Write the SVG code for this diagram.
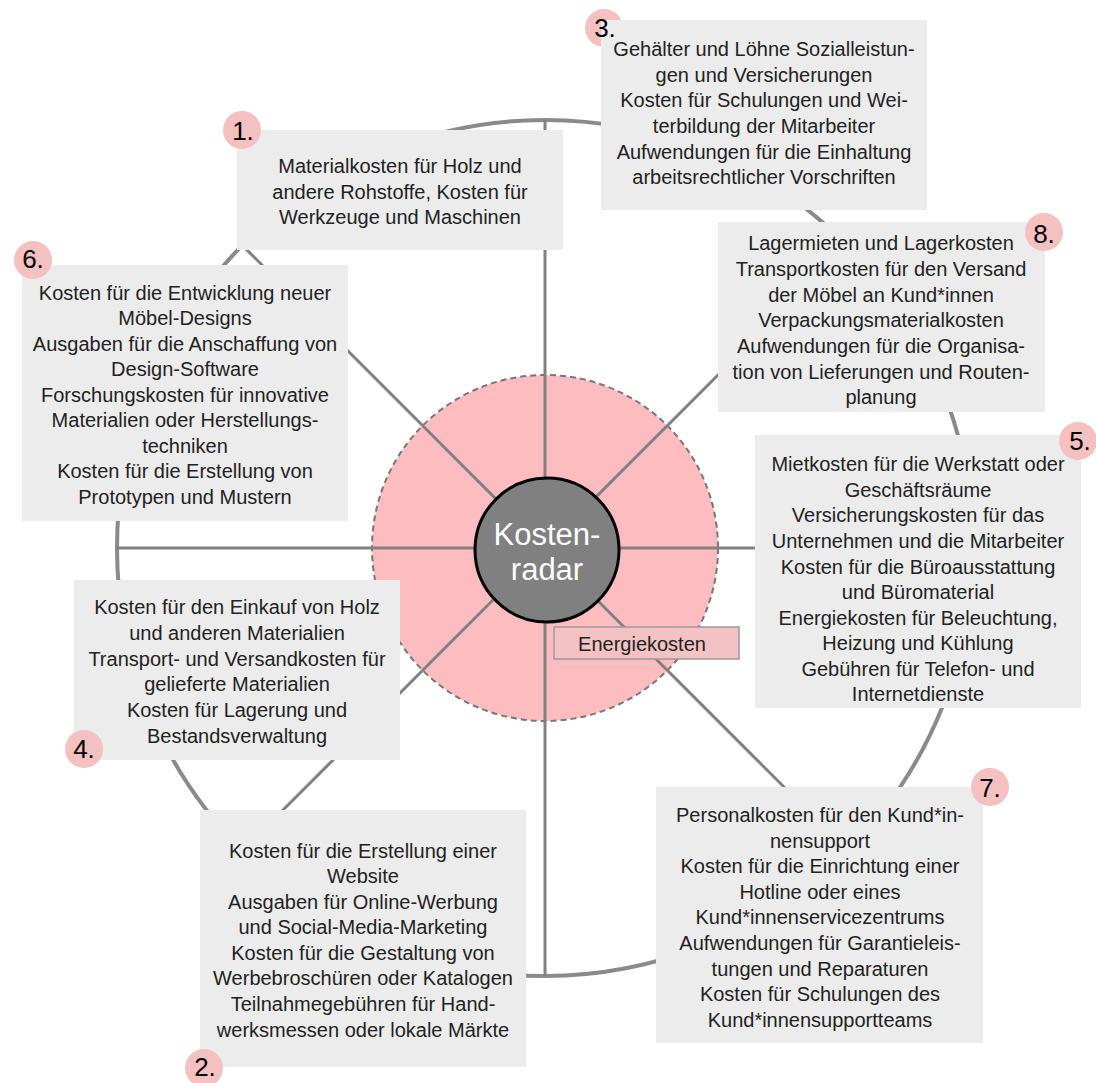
<svg xmlns="http://www.w3.org/2000/svg" width="1096" height="1083" viewBox="0 0 1096 1083">
<style>
.box{fill:#ececec}
.t{font-family:"Liberation Sans",Arial,sans-serif;font-size:20px;fill:#222;text-anchor:middle}
.badge{fill:#f4c0c0}
.bt{font-family:"Liberation Sans",Arial,sans-serif;font-size:26px;fill:#000;text-anchor:middle}
.spoke{stroke:#808080;stroke-width:3;fill:none}
.ct{font-family:"Liberation Sans",Arial,sans-serif;font-size:31px;fill:#fff;text-anchor:middle}
</style>
<rect width="1096" height="1083" fill="#fff"/>
<g id="background">
<circle cx="545" cy="548" r="428" fill="none" stroke="#8a8a8a" stroke-width="4"/>
<circle cx="545" cy="548" r="173" fill="#fdbcc0" stroke="#777" stroke-width="2" stroke-dasharray="6,4"/>
</g>
<g id="connectors">
<line class="spoke" x1="545" y1="548" x2="545" y2="120"/>
<line class="spoke" x1="545" y1="548" x2="545" y2="976"/>
<line class="spoke" x1="545" y1="548" x2="117" y2="548"/>
<line class="spoke" x1="545" y1="548" x2="973" y2="548"/>
<line class="spoke" x1="545" y1="548" x2="242" y2="245"/>
<line class="spoke" x1="545" y1="548" x2="848" y2="245"/>
<line class="spoke" x1="545" y1="548" x2="242" y2="851"/>
<line class="spoke" x1="545" y1="548" x2="848" y2="851"/>
</g>
<g id="center">
<circle cx="547" cy="550" r="72" fill="#808080" stroke="#000" stroke-width="3"/>
<text class="ct" x="547" y="545">Kosten-</text>
<text class="ct" x="547" y="580">radar</text>
</g>
<g id="energiekosten">
<rect x="554" y="627" width="185" height="32" fill="#f4c2c2" stroke="#9a9a9a" stroke-width="1.5"/>
<text class="t" x="642" y="651">Energiekosten</text>
</g>
<g id="node1">
<rect class="box" x="237" y="130" width="326" height="120"/>
<text class="t" x="400" y="173">Materialkosten für Holz und</text>
<text class="t" x="400" y="199">andere Rohstoffe, Kosten für</text>
<text class="t" x="400" y="224">Werkzeuge und Maschinen</text>
<circle class="badge" cx="242" cy="130" r="19"/>
<text class="bt" x="243" y="140">1.</text>
</g>
<g id="node3">
<circle class="badge" cx="604" cy="28" r="19"/>
<rect class="box" x="601" y="20" width="326" height="190"/>
<text class="bt" x="605" y="37">3.</text>
<text class="t" x="764" y="56">Gehälter und Löhne Sozialleistun-</text>
<text class="t" x="764" y="82">gen und Versicherungen</text>
<text class="t" x="764" y="107">Kosten für Schulungen und Wei-</text>
<text class="t" x="764" y="133">terbildung der Mitarbeiter</text>
<text class="t" x="764" y="159">Aufwendungen für die Einhaltung</text>
<text class="t" x="764" y="184">arbeitsrechtlicher Vorschriften</text>
</g>
<g id="node6">
<rect class="box" x="22" y="265" width="326" height="256"/>
<text class="t" x="185" y="300">Kosten für die Entwicklung neuer</text>
<text class="t" x="185" y="325">Möbel-Designs</text>
<text class="t" x="185" y="351">Ausgaben für die Anschaffung von</text>
<text class="t" x="185" y="376">Design-Software</text>
<text class="t" x="185" y="402">Forschungskosten für innovative</text>
<text class="t" x="185" y="427">Materialien oder Herstellungs-</text>
<text class="t" x="185" y="453">techniken</text>
<text class="t" x="185" y="478">Kosten für die Erstellung von</text>
<text class="t" x="185" y="504">Prototypen und Mustern</text>
<circle class="badge" cx="33" cy="260" r="19"/>
<text class="bt" x="33" y="268">6.</text>
</g>
<g id="node8">
<rect class="box" x="718" y="222" width="327" height="190"/>
<text class="t" x="881" y="250">Lagermieten und Lagerkosten</text>
<text class="t" x="881" y="276">Transportkosten für den Versand</text>
<text class="t" x="881" y="302">der Möbel an Kund*innen</text>
<text class="t" x="881" y="327">Verpackungsmaterialkosten</text>
<text class="t" x="881" y="353">Aufwendungen für die Organisa-</text>
<text class="t" x="881" y="379">tion von Lieferungen und Routen-</text>
<text class="t" x="881" y="404">planung</text>
<circle class="badge" cx="1044" cy="232" r="19"/>
<text class="bt" x="1044" y="243">8.</text>
</g>
<g id="node5">
<rect class="box" x="755" y="435" width="326" height="273"/>
<text class="t" x="918" y="471">Mietkosten für die Werkstatt oder</text>
<text class="t" x="918" y="497">Geschäftsräume</text>
<text class="t" x="918" y="522">Versicherungskosten für das</text>
<text class="t" x="918" y="548">Unternehmen und die Mitarbeiter</text>
<text class="t" x="918" y="574">Kosten für die Büroausstattung</text>
<text class="t" x="918" y="599">und Büromaterial</text>
<text class="t" x="918" y="625">Energiekosten für Beleuchtung,</text>
<text class="t" x="918" y="650">Heizung und Kühlung</text>
<text class="t" x="918" y="676">Gebühren für Telefon- und</text>
<text class="t" x="918" y="701">Internetdienste</text>
<circle class="badge" cx="1078" cy="441" r="19"/>
<text class="bt" x="1080" y="450">5.</text>
</g>
<g id="node4">
<rect class="box" x="74" y="580" width="326" height="180"/>
<text class="t" x="237" y="614">Kosten für den Einkauf von Holz</text>
<text class="t" x="237" y="640">und anderen Materialien</text>
<text class="t" x="237" y="666">Transport- und Versandkosten für</text>
<text class="t" x="237" y="691">gelieferte Materialien</text>
<text class="t" x="237" y="717">Kosten für Lagerung und</text>
<text class="t" x="237" y="743">Bestandsverwaltung</text>
<circle class="badge" cx="84" cy="749" r="19"/>
<text class="bt" x="84" y="758">4.</text>
</g>
<g id="node2">
<rect class="box" x="200" y="810" width="326" height="257"/>
<text class="t" x="363" y="858">Kosten für die Erstellung einer</text>
<text class="t" x="363" y="883">Website</text>
<text class="t" x="363" y="909">Ausgaben für Online-Werbung</text>
<text class="t" x="363" y="934">und Social-Media-Marketing</text>
<text class="t" x="363" y="960">Kosten für die Gestaltung von</text>
<text class="t" x="363" y="985">Werbebroschüren oder Katalogen</text>
<text class="t" x="363" y="1011">Teilnahmegebühren für Hand-</text>
<text class="t" x="363" y="1037">werksmessen oder lokale Märkte</text>
<circle class="badge" cx="204" cy="1068" r="19"/>
<text class="bt" x="205" y="1076">2.</text>
</g>
<g id="node7">
<rect class="box" x="656" y="787" width="327" height="256"/>
<text class="t" x="820" y="822">Personalkosten für den Kund*in-</text>
<text class="t" x="820" y="848">nensupport</text>
<text class="t" x="820" y="873">Kosten für die Einrichtung einer</text>
<text class="t" x="820" y="899">Hotline oder eines</text>
<text class="t" x="820" y="924">Kund*innenservicezentrums</text>
<text class="t" x="820" y="950">Aufwendungen für Garantieleis-</text>
<text class="t" x="820" y="976">tungen und Reparaturen</text>
<text class="t" x="820" y="1001">Kosten für Schulungen des</text>
<text class="t" x="820" y="1027">Kund*innensupportteams</text>
<circle class="badge" cx="990" cy="787" r="19"/>
<text class="bt" x="990" y="797">7.</text>
</g>
</svg>
